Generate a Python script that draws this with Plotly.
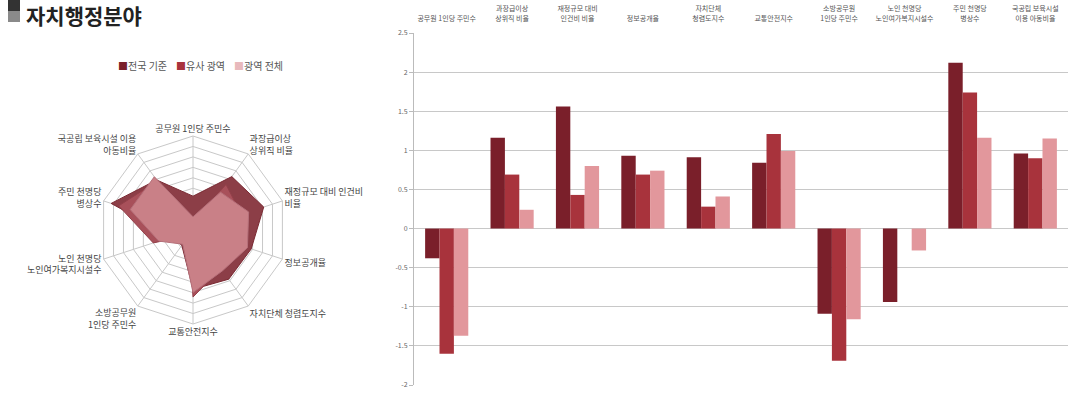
import plotly.graph_objects as go

categories_bar = [
    "공무원 1인당 주민수",
    "과장급이상<br>상위직 비율",
    "재정규모 대비<br>인건비 비율",
    "정보공개율",
    "자치단체<br>청렴도지수",
    "교통안전지수",
    "소방공무원<br>1인당 주민수",
    "노인 천명당<br>노인여가복지시설수",
    "주민 천명당<br>병상수",
    "국공립 보육시설<br>이용 아동비율",
]
categories_radar = [
    "공무원 1인당 주민수",
    "과장급이상<br>상위직 비율",
    "재정규모 대비 인건비<br>비율",
    "정보공개율",
    "자치단체 청렴도지수",
    "교통안전지수",
    "소방공무원<br>1인당 주민수",
    "노인 천명당<br>노인여가복지시설수",
    "주민 천명당<br>병상수",
    "국공립 보육시설 이용<br>아동비율",
]
series_names = ["전국 기준", "유사 광역", "광역 전체"]
national = [-0.38, 1.16, 1.56, 0.93, 0.91, 0.84, -1.09, -0.94, 2.12, 0.96]
similar = [-1.60, 0.69, 0.43, 0.69, 0.28, 1.21, -1.69, 0.0, 1.74, 0.90]
all_metro = [-1.37, 0.24, 0.80, 0.74, 0.41, 0.99, -1.16, -0.28, 1.16, 1.15]
y_ticks = [-2, -1.5, -1, -0.5, 0, 0.5, 1, 1.5, 2, 2.5]

bar_colors = ["#7A1F2A", "#A8333C", "#E2979C"]
radar_fill = ["#8C3E47", "#A8505A", "#C98087"]
radar_line = ["#7A2A33", "#93404A", "#B5707A"]
legend_marks = ["#7A1F2A", "#A8333C", "#E8B9BC"]
FONT = "Noto Sans CJK KR"

W, H = 1071, 395
fig = go.Figure()

for name, vals, col in zip(series_names, [national, similar, all_metro], bar_colors):
    fig.add_trace(go.Bar(
        x=categories_bar, y=vals, name=name, marker=dict(color=col, line=dict(width=0)),
        xaxis="x", yaxis="y", showlegend=False,
    ))

for name, vals, fc, lc in zip(series_names, [national, similar, all_metro], radar_fill, radar_line):
    fig.add_trace(go.Scatterpolar(
        r=vals + [vals[0]], theta=categories_radar + [categories_radar[0]],
        name=name, mode="lines", fill="toself", fillcolor=fc,
        line=dict(color=lc, width=1), showlegend=False, subplot="polar",
    ))

legend_text = "&nbsp;&nbsp;&nbsp;&nbsp;".join(
    f"<span style='color:{c}'>■</span>{n}" for n, c in zip(series_names, legend_marks)
)

# radar geometry (pixels)
cx, cy, rad = 193, 230, 94
fig.update_layout(
    width=W, height=H, autosize=False,
    margin=dict(l=0, r=0, t=0, b=0, autoexpand=False),
    paper_bgcolor="white", plot_bgcolor="white",
    font=dict(family=FONT, color="#555"),
    barmode="group", bargap=0.34, bargroupgap=0.0,
    showlegend=False,
    xaxis=dict(domain=[414 / W, 1068 / W], side="top", anchor="free", position=1 - 22 / H,
               tickfont=dict(size=7, color="#555"), showgrid=False, showline=False,
               ticks="", tickangle=0, automargin=False),
    yaxis=dict(domain=[1 - 385 / H, 1 - 33 / H], range=[-2, 2.5], tickvals=y_ticks,
               ticktext=[str(v) for v in y_ticks], automargin=False,
               tickfont=dict(size=7, color="#666"), showgrid=True, gridcolor="#C8C8C8",
               gridwidth=1, zeroline=False, showline=True, linecolor="#BBBBBB",
               ticks="outside", ticklen=4, tickcolor="#BBBBBB"),
    polar=dict(
        domain=dict(x=[(cx - rad) / W, (cx + rad) / W], y=[(H - cy - rad) / H, (H - cy + rad) / H]),
        gridshape="linear", bgcolor="white",
        radialaxis=dict(range=[-2, 2.5], dtick=0.5, showticklabels=False, ticks="",
                        gridcolor="#C8C8C8", showline=False, gridwidth=1),
        angularaxis=dict(direction="clockwise", rotation=90, gridcolor="#C8C8C8",
                         linecolor="#C8C8C8", tickfont=dict(size=9, color="#444"), ticks=""),
    ),
    annotations=[
        dict(text="<b>자치행정분야</b>", x=24 / W, y=1 - 15.5 / H, xref="paper", yref="paper",
             xanchor="left", yanchor="middle", showarrow=False,
             font=dict(size=21, color="#222", family=FONT)),
        dict(text=legend_text, x=200 / W, y=1 - 65 / H, xref="paper", yref="paper",
             xanchor="center", yanchor="middle", showarrow=False,
             font=dict(size=10, color="#555", family=FONT)),
    ],
    shapes=[
        dict(type="rect", xref="paper", yref="paper", x0=8 / W, x1=20 / W, y0=1 - 11 / H, y1=1,
             fillcolor="#333333", line=dict(width=0)),
        dict(type="rect", xref="paper", yref="paper", x0=8 / W, x1=20 / W, y0=1 - 22 / H, y1=1 - 11 / H,
             fillcolor="#8A8A8A", line=dict(width=0)),
    ],
)

fig.write_html("out.html", config={"displayModeBar": False},
               post_script="document.body.style.margin='0';")
